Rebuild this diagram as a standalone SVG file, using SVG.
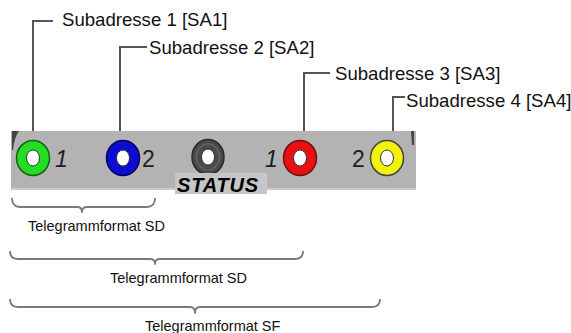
<svg xmlns="http://www.w3.org/2000/svg" width="571" height="333" viewBox="0 0 571 333">
<style>
.lbl{font-family:"Liberation Sans",Arial,sans-serif;font-size:18.6px;fill:#111}
.tf{font-family:"Liberation Sans",Arial,sans-serif;font-size:14.5px;fill:#111}
.num{font-family:"Liberation Sans",Arial,sans-serif;font-size:23px;fill:#1e1e1e}
.call{fill:none;stroke:#555;stroke-width:2}
.brace{fill:none;stroke:#7a7a7a;stroke-width:1.8;stroke-linejoin:round}
.hole{fill:#fff;stroke:#333;stroke-width:1}
</style>
<rect width="571" height="333" fill="#fff"/>
<g id="panel">
<rect x="11" y="131" width="405" height="59" fill="#b3b3b3"/>
<rect x="11" y="188" width="405" height="2" fill="#c9c9c9"/>
<path d="M12,131 L19,131 Q14,138 13,150 L12,150 Z" fill="#444"/>
<path d="M411,131 L414,131 L414,145 L412,145 Z" fill="#444"/>
</g>
<g id="connectors">
<path class="call" d="M33,131 V21 H53"/>
<path class="call" d="M120,131 V47 H147"/>
<path class="call" d="M304,131 V73 H330"/>
<path class="call" d="M393,131 V97 H405"/>
</g>
<g id="sa1">
<ellipse cx="33" cy="158" rx="16.5" ry="17.5" fill="#22dd22" stroke="#1b5e1b" stroke-width="1.5"/>
<ellipse class="hole" cx="33" cy="158" rx="6.5" ry="8"/>
<text class="num" x="55" y="167" font-style="italic">1</text>
<text class="lbl" x="62" y="26">Subadresse 1 [SA1]</text>
</g>
<g id="sa2">
<ellipse cx="123" cy="158" rx="16.5" ry="17.5" fill="#0c0cd2" stroke="#000060" stroke-width="1.5"/>
<ellipse class="hole" cx="123" cy="158" rx="6.5" ry="8"/>
<text class="num" x="142" y="167">2</text>
<text class="lbl" x="149" y="54">Subadresse 2 [SA2]</text>
</g>
<g id="status">
<ellipse cx="208" cy="157" rx="16" ry="17.5" fill="#4a4a4a" stroke="#2a2a2a" stroke-width="1.5"/>
<ellipse cx="208" cy="157" rx="11.5" ry="13" fill="none" stroke="#6a6a6a" stroke-width="1.2"/>
<ellipse class="hole" cx="208" cy="157" rx="6.5" ry="8"/>
<rect x="175" y="173" width="92" height="21" fill="#c6c6c6"/>
<text x="177" y="192" font-family="Liberation Sans,Arial,sans-serif" font-size="20" font-weight="bold" font-style="italic" letter-spacing="0.8" fill="#000">STATUS</text>
</g>
<g id="sa3">
<ellipse cx="300" cy="158" rx="16.5" ry="17.5" fill="#e81010" stroke="#701010" stroke-width="1.5"/>
<ellipse class="hole" cx="300" cy="158" rx="6.5" ry="8"/>
<text class="num" x="265" y="167" font-style="italic">1</text>
<text class="lbl" x="335" y="80">Subadresse 3 [SA3]</text>
</g>
<g id="sa4">
<ellipse cx="387" cy="158" rx="16.5" ry="17.5" fill="#f2f20a" stroke="#444" stroke-width="1.5"/>
<ellipse class="hole" cx="387" cy="158" rx="6.5" ry="8"/>
<text class="num" x="352" y="167">2</text>
<text class="lbl" x="406" y="107">Subadresse 4 [SA4]</text>
</g>
<g id="brace1">
<path class="brace" d="M12,198 Q12,207 20,207 L77,207 Q82,207 82,212 Q82,207 87,207 L147,207 Q155,207 155,198"/>
<text class="tf" x="28" y="231">Telegrammformat SD</text>
</g>
<g id="brace2">
<path class="brace" d="M10,251 Q10,259 18,259 L150,259 Q155,259 155,264 Q155,259 160,259 L295,259 Q303,259 303,251"/>
<text class="tf" x="110" y="283">Telegrammformat SD</text>
</g>
<g id="brace3">
<path class="brace" d="M10,299 Q10,307 18,307 L190,307 Q195,307 195,313 Q195,307 200,307 L372,307 Q380,307 380,299"/>
<text class="tf" x="145" y="331">Telegrammformat SF</text>
</g>
</svg>
